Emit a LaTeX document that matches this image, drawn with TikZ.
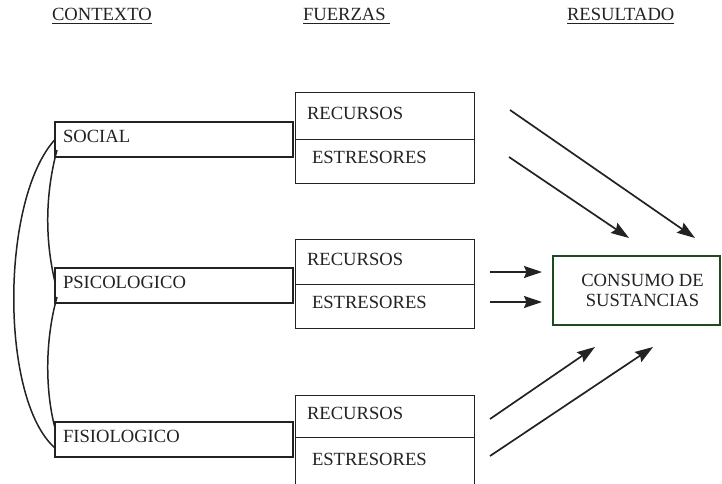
\documentclass[tikz,border=0pt]{standalone}
\usepackage{fontspec}
\setmainfont{Liberation Serif}
\usetikzlibrary{arrows.meta}
\definecolor{ink}{HTML}{222222}
\definecolor{framegreen}{HTML}{1E4A1E}
\begin{document}
\begin{tikzpicture}[x=1pt,y=-1pt,
  every node/.style={font=\fontsize{18.6}{20}\selectfont, text=ink, outer sep=0pt},
  heading/.style={inner sep=0pt, anchor=base west},
  uline/.style={draw=ink, line width=1.6pt},
  ctxbox/.style={draw=ink, line width=1.6pt, anchor=north west,
    minimum width=238pt, minimum height=35pt, inner xsep=8pt, inner ysep=0pt,
    text width=222pt, align=left, text height=12pt, text depth=6pt},
  reccell/.style={draw=ink, line width=1pt, anchor=north west,
    minimum width=179pt, inner xsep=12pt, inner ysep=0pt,
    text width=155pt, align=left, text height=12pt, text depth=5pt},
  estcell/.style={draw=ink, line width=1pt, anchor=north west,
    minimum width=179pt, inner xsep=17pt, inner ysep=0pt,
    text width=145pt, align=left, text height=12pt, text depth=8pt},
  resultbox/.style={draw=framegreen, line width=1.6pt, anchor=north west,
    minimum width=167pt, minimum height=69pt, align=center},
  link/.style={draw=ink, line width=1.5pt},
  flow/.style={draw=ink, line width=1.7pt,
    -{Stealth[length=18pt,width=12pt,inset=2.5pt]}}
]
\useasboundingbox (0,0) rectangle (722,484);
\clip (0,0) rectangle (722,484);

% column headings
\node[heading] (hctx) at (52,20.5) {CONTEXTO};
\node[heading] (hfz)  at (303,20.5) {FUERZAS};
\node[heading] (hres) at (567,20.5) {RESULTADO};
\draw[uline] ([yshift=-3pt]hctx.base west) -- ([yshift=-3pt]hctx.base east);
\draw[uline] ([yshift=-3pt]hfz.base west) -- ([yshift=-3pt,xshift=4pt]hfz.base east);
\draw[uline] ([yshift=-3pt]hres.base west) -- ([yshift=-3pt]hres.base east);

% context boxes
\node[ctxbox] (social) at (55,122) {SOCIAL};
\node[ctxbox] (psico)  at (55,268) {PSICOLOGICO};
\node[ctxbox] (fisio)  at (55,422) {FISIOLOGICO};

% resources / stressors
\node[reccell, minimum height=46pt] (rec1) at (295,93) {RECURSOS};
\node[estcell, minimum height=44pt] (est1) at (rec1.south west) {ESTRESORES};
\node[reccell, minimum height=45pt] (rec2) at (295,239) {RECURSOS};
\node[estcell, minimum height=44pt] (est2) at (rec2.south west) {ESTRESORES};
\node[reccell, minimum height=42pt] (rec3) at (295,395) {RECURSOS};
\node[estcell, minimum height=52pt] (est3) at (rec3.south west) {ESTRESORES};

% outcome
\node[resultbox] (cons) at (553,256)
  {\hspace*{12pt}CONSUMO DE\\\hspace*{12pt}SUSTANCIAS};

% links between contexts
\draw[link] (social.west) .. controls (0,200) and (0,400) .. ([yshift=-8.5pt]fisio.west);
\draw[link] ([yshift=7pt,xshift=2pt]social.south west) .. controls (45,195) and (45,240) .. ([yshift=3.5pt]psico.west);
\draw[link] ([yshift=6pt,xshift=2pt]psico.south west) .. controls (45,340) and (45,390) .. ([yshift=-6pt]fisio.north west);

% flows toward the outcome
\coordinate (a1s) at (510,110); \coordinate (a1e) at (695,238);
\coordinate (a2s) at (509,157); \coordinate (a2e) at (629,238);
\coordinate (m1s) at (490,272); \coordinate (m1e) at (542,272);
\coordinate (m2s) at (490,302); \coordinate (m2e) at (542,302);
\coordinate (b1s) at (490,419); \coordinate (b1e) at (595,347);
\coordinate (b2s) at (490,456); \coordinate (b2e) at (653,347);
\draw[flow] (a1s) -- (a1e);
\draw[flow] (a2s) -- (a2e);
\draw[flow] (m1s) -- (m1e);
\draw[flow] (m2s) -- (m2e);
\draw[flow] (b1s) -- (b1e);
\draw[flow] (b2s) -- (b2e);
\end{tikzpicture}
\end{document}
